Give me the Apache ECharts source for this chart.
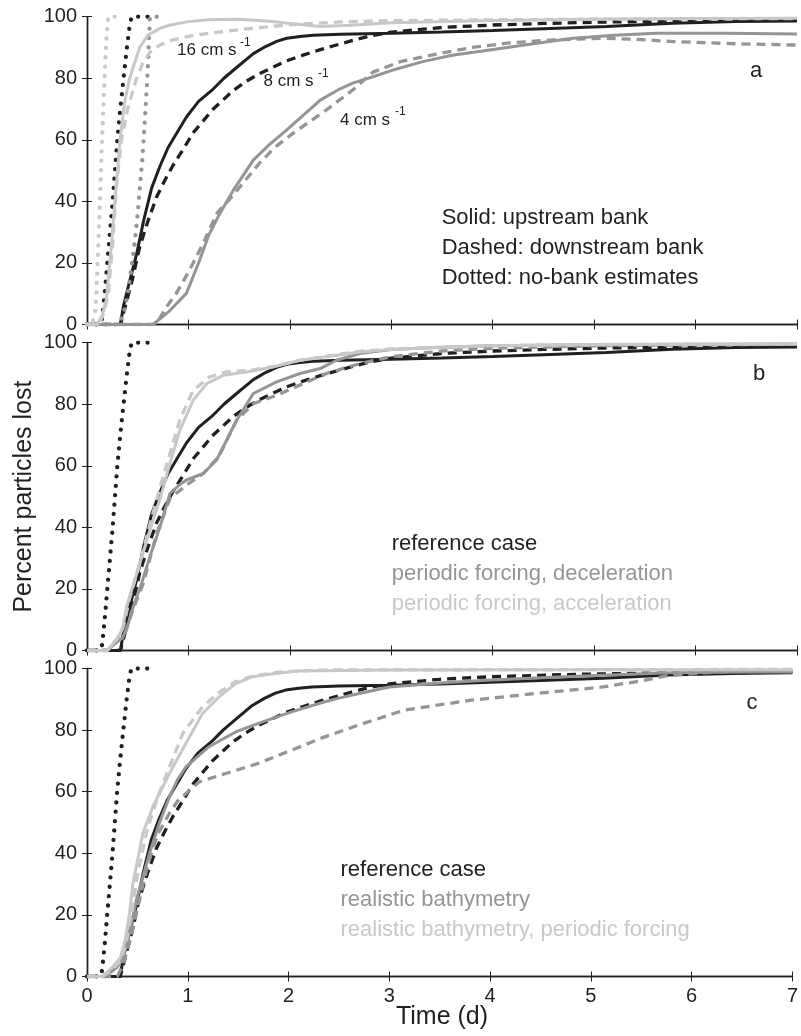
<!DOCTYPE html>
<html><head><meta charset="utf-8">
<script src="https://cdn.jsdelivr.net/npm/echarts@6/dist/echarts.min.js"></script>
<style>html,body{margin:0;padding:0;background:#fff}#c{width:801px;height:1036px}</style>
</head><body><div id="c"></div><script>
// ---------- data (time in days, percent lost) ----------
const xTicks = [0,1,2,3,4,5,6,7];
const yTicks = [0,20,40,60,80,100];

// reference case (8 cm/s) - shared by all panels
const refSolid = [[0,0],[0.33,0],[0.358,5.8],[0.42,14],[0.49,23],[0.56,34],[0.637,44.3],[0.72,51.5],[0.8,57.5],[0.9,63],[0.982,67.5],[1.1,72.5],[1.244,76.5],[1.35,80],[1.475,83.5],[1.64,88],[1.76,90.3],[1.87,92],[1.97,93],[2.1,93.6],[2.23,94],[2.5,94.3],[3,94.6],[3.5,95],[4,95.5],[4.5,96.1],[5.12,96.8],[5.77,97.9],[6.4,98.4],[7,98.6]];
const refDashed = [[0,0],[0.33,0],[0.37,5],[0.45,15],[0.52,25.3],[0.6,33.5],[0.687,41.5],[0.77,47],[0.85,51.8],[0.95,57],[1.047,62.3],[1.244,70],[1.441,76],[1.57,79],[1.70,81.5],[1.97,85.7],[2.13,87.5],[2.30,89.3],[2.46,90.8],[2.62,92.3],[2.8,93.8],[3.0,95],[3.5,96.5],[4,97.3],[4.5,97.8],[5,98.2],[6,98.7],[7,99]];
const refDotted = [[0,0],[0.13,0],[0.15,2],[0.18,12],[0.2,20],[0.227,30],[0.253,40],[0.276,50],[0.299,60],[0.325,69],[0.357,79],[0.39,89],[0.42,97],[0.44,100],[0.6,100]];

// panel a: 16 cm/s (light) and 4 cm/s (gray)
const fastSolid = [[0,0],[0.1,0],[0.15,3],[0.19,8],[0.23,22],[0.276,40],[0.325,60],[0.37,72],[0.42,80],[0.52,90],[0.6,94],[0.72,96.2],[0.82,97.3],[1.0,98.4],[1.2,99],[1.5,99.2],[1.8,98.5],[2.1,97.5],[2.3,96.8],[2.6,97.2],[3.0,98],[4,98.8],[5,99.2],[6,99.4],[7,99.5]];
const fastDashed = [[0,0],[0.12,0],[0.17,4],[0.21,10],[0.25,25],[0.29,45],[0.34,60],[0.4,70],[0.48,79],[0.55,85],[0.62,88.5],[0.72,90.8],[0.85,92.5],[1.0,93.6],[1.2,94.6],[1.5,95.8],[2,97.4],[2.5,98.3],[3,98.7],[4,99],[5,99.2],[6,99.3],[7,99.4]];
const fastDotted = [[0,0],[0.05,0],[0.085,5],[0.105,20],[0.128,40],[0.148,60],[0.173,80],[0.19,92],[0.21,100],[0.35,100]];
const slowSolid = [[0,0],[0.65,0],[0.8,4],[0.98,10.1],[1.1,20],[1.2,29],[1.31,36.1],[1.45,44],[1.64,53.4],[1.8,58.5],[1.97,63.2],[2.15,68.5],[2.30,72.9],[2.49,76.5],[2.62,78.4],[2.82,80.5],[3.0,82.5],[3.31,85.4],[3.6,87.5],[3.97,89.2],[4.4,91.2],[4.79,93],[5.2,94],[5.61,94.6],[6.3,94.6],[7,94.4]];
const slowDashed = [[0,0],[0.68,0],[0.785,5.8],[0.88,10.1],[1.0,17],[1.146,26.4],[1.28,36.1],[1.4,40.5],[1.51,44.8],[1.70,52.4],[1.85,57.5],[2.03,62.1],[2.2,66],[2.36,69.7],[2.62,76.2],[2.82,82],[3.1,85.5],[3.48,88.1],[3.8,90],[4.14,91.4],[4.6,92.5],[5.12,93],[5.5,92.5],[5.78,91.9],[6.4,91.2],[7,90.8]];
const slowDotted = [[0,0],[0.3,0],[0.34,2],[0.374,5.3],[0.407,11.2],[0.44,18.8],[0.473,27.5],[0.5,36],[0.522,44.8],[0.545,53.4],[0.562,62],[0.578,70.8],[0.594,79.4],[0.604,87],[0.615,95],[0.62,100],[0.7,100]];

// panel b: periodic forcing
const decelSolid = [[0,0],[0.2,0],[0.3,3],[0.35,4],[0.4,8],[0.456,14.2],[0.54,22],[0.62,30.5],[0.72,40.2],[0.818,51],[0.9,53.5],[0.98,55.4],[1.146,57.5],[1.278,61.9],[1.376,68.3],[1.475,74.8],[1.64,83.5],[1.87,87.3],[2.10,90],[2.30,91.6],[2.46,94.3],[2.69,96.5],[3,97.8],[3.5,98.5],[4,99],[5,99.3],[6,99.5],[7,99.5]];
const decelDashed = [[0,0],[0.2,0],[0.3,3],[0.37,5],[0.45,13],[0.555,21.8],[0.687,38],[0.818,49.4],[0.98,53.7],[1.146,57.5],[1.3,63],[1.475,74.8],[1.64,80.2],[1.87,82.9],[2.13,86.7],[2.36,90],[2.69,93.2],[3,95.5],[3.5,97.3],[4,98.2],[5,99],[6,99.3],[7,99.5]];
const accelSolid = [[0,0],[0.2,0],[0.3,4],[0.35,7],[0.39,14.2],[0.49,25],[0.62,39.1],[0.72,49.2],[0.818,60.8],[0.916,71.6],[1.047,81.3],[1.18,86.7],[1.343,89.4],[1.573,90.5],[1.835,92.1],[2.10,94.3],[2.36,95.4],[2.69,97],[3,97.8],[3.5,98.5],[4,99],[5,99.4],[6,99.5],[7,99.6]];
const accelDashed = [[0,0],[0.2,0],[0.3,4],[0.36,8],[0.42,17],[0.52,28],[0.62,41],[0.72,53],[0.818,64],[0.916,75],[1.047,84.5],[1.21,88.9],[1.376,90.5],[1.6,91],[1.835,92.3],[2.1,94.3],[2.4,95.8],[2.69,97.2],[3,98],[4,99],[5,99.4],[7,99.6]];

// panel c: realistic bathymetry
const bathySolid = [[0,0],[0.18,0],[0.3,3],[0.36,6],[0.42,14],[0.49,24.8],[0.62,40],[0.72,50],[0.818,58.3],[0.9,64],[0.982,68.1],[1.1,71.5],[1.21,74.6],[1.475,79.4],[1.70,82.2],[2.03,85.9],[2.36,89.2],[2.49,90.3],[2.69,91.8],[3.0,94],[3.5,95.3],[3.97,96.2],[4.5,97],[5.12,97.8],[5.78,98.6],[6.5,98.9],[7,98.9]];
const bathyDashed = [[0,0],[0.3,0],[0.36,4],[0.43,12],[0.52,24.8],[0.6,36],[0.7,46],[0.818,53],[0.9,57],[0.982,59.4],[1.113,63.2],[1.376,65.9],[1.70,69.2],[2.03,73.5],[2.36,77.8],[2.69,81.6],[3.15,86.5],[3.81,89.7],[4.46,91.9],[5.12,94],[5.5,96],[5.78,97.8],[6.27,98.9],[7,99.2]];
const bathyPerSolid = [[0,0],[0.15,0],[0.25,3],[0.33,6],[0.38,12],[0.42,20],[0.456,30.2],[0.555,46.5],[0.653,55.1],[0.818,65.9],[0.982,75.7],[1.146,85.4],[1.31,90.8],[1.475,95.1],[1.64,97.3],[1.87,98.4],[2.1,99.2],[3,99.5],[4,99.6],[7,99.6]];
const bathyPerDashed = [[0,0],[0.15,0],[0.25,2],[0.33,5],[0.38,10],[0.44,20],[0.5,33],[0.6,48],[0.7,58],[0.818,68],[0.95,78.9],[1.146,87.5],[1.3,92],[1.475,95.7],[1.64,97.5],[1.9,98.8],[2.3,99.5],[7,99.7]];

// ---------- style ----------
const INK = '#231f20', GRAY = '#939598', LIGHT = '#c7c8ca';
const FONT = '"Liberation Sans", Arial, Helvetica, sans-serif';
const grids = [
  {left: 87, right: 4, top: 16.7, height: 307.8},
  {left: 87, right: 4, top: 342.7, height: 307.8},
  {left: 87, right: 4, top: 668.5, height: 308}
];

const xAxis = [], yAxis = [];
grids.forEach((g, i) => {
  const tick = {show: true, inside: true, length: 5, lineStyle: {color: INK, width: 1}};
  const line = {show: true, lineStyle: {color: INK, width: 1.4}};
  xAxis.push({type: 'value', gridIndex: i, position: 'bottom', min: xTicks[0], max: xTicks[xTicks.length-1], interval: 1,
    axisLine: line, axisTick: tick, splitLine: {show: false},
    axisLabel: {show: i === 2, margin: 10, color: INK, fontSize: 20, fontFamily: FONT}});
  xAxis.push({type: 'value', gridIndex: i, position: 'top', min: xTicks[0], max: xTicks[xTicks.length-1], interval: 1,
    axisLine: line, axisTick: tick, splitLine: {show: false}, axisLabel: {show: false}});
  yAxis.push({type: 'value', gridIndex: i, position: 'left', min: yTicks[0], max: yTicks[yTicks.length-1], interval: 20,
    axisLine: line, axisTick: tick, splitLine: {show: false},
    axisLabel: {show: true, margin: 10, color: INK, fontSize: 20, fontFamily: FONT}});
  yAxis.push({type: 'value', gridIndex: i, position: 'right', min: yTicks[0], max: yTicks[yTicks.length-1], interval: 20,
    axisLine: line, axisTick: tick, splitLine: {show: false}, axisLabel: {show: false}});
});

function mk(data, color, kind, gi) {
  let ls;
  if (kind === 'solid') ls = {color, width: 3, type: 'solid'};
  else if (kind === 'dashed') ls = {color, width: 3.3, type: [9, 6], cap: 'butt'};
  else ls = {color, width: 4.3, type: [0.01, 9.4], cap: 'round'};
  return {type: 'line', data, xAxisIndex: gi*2, yAxisIndex: gi*2, showSymbol: false, symbol: 'none',
    smooth: false, lineStyle: ls, silent: true, animation: false, z: 2};
}

const series = [
  // panel a
  mk(refSolid, INK, 'solid', 0), mk(refDashed, INK, 'dashed', 0), mk(refDotted, INK, 'dotted', 0),
  mk(slowSolid, GRAY, 'solid', 0), mk(slowDashed, GRAY, 'dashed', 0), mk(slowDotted, GRAY, 'dotted', 0),
  mk(fastSolid, LIGHT, 'solid', 0), mk(fastDashed, LIGHT, 'dashed', 0), mk(fastDotted, LIGHT, 'dotted', 0),
  // panel b
  mk(refSolid, INK, 'solid', 1), mk(refDashed, INK, 'dashed', 1), mk(refDotted, INK, 'dotted', 1),
  mk(decelSolid, GRAY, 'solid', 1), mk(decelDashed, GRAY, 'dashed', 1),
  mk(accelSolid, LIGHT, 'solid', 1), mk(accelDashed, LIGHT, 'dashed', 1),
  // panel c
  mk(refSolid, INK, 'solid', 2), mk(refDashed, INK, 'dashed', 2), mk(refDotted, INK, 'dotted', 2),
  mk(bathySolid, GRAY, 'solid', 2), mk(bathyDashed, GRAY, 'dashed', 2),
  mk(bathyPerSolid, LIGHT, 'solid', 2), mk(bathyPerDashed, LIGHT, 'dashed', 2)
];

function txt(text, x, y, size, color, align) {
  return {type: 'text', x, y, z: 10, silent: true,
    style: {text, fill: color || INK, font: size + 'px ' + FONT, textAlign: align || 'left', textVerticalAlign: 'middle'}};
}

const graphic = [
  // axis titles
  {type: 'text', x: 24, y: 496.6, rotation: Math.PI/2, z: 10, silent: true,
   style: {text: 'Percent particles lost', fill: INK, font: '25px ' + FONT, textAlign: 'center', textVerticalAlign: 'middle'}},
  txt('Time (d)', 442, 1017, 25, INK, 'center'),
  // panel letters
  txt('a', 756, 71, 22, INK, 'center'),
  txt('b', 759, 374, 22, INK, 'center'),
  txt('c', 752, 703, 22, INK, 'center'),
  // panel a curve labels
  txt('16 cm s', 177, 50, 17), txt('-1', 240, 43, 12),
  txt('8 cm s', 263.5, 81, 17), txt('-1', 318, 73.5, 12),
  txt('4 cm s', 340, 120, 17), txt('-1', 395, 112, 12),
  // panel a key
  txt('Solid: upstream bank', 441.7, 218, 22),
  txt('Dashed: downstream bank', 441.7, 248, 22),
  txt('Dotted: no-bank estimates', 441.7, 278, 22),
  // panel b key
  txt('reference case', 391.7, 544, 22, INK),
  txt('periodic forcing, deceleration', 391.7, 574, 22, GRAY),
  txt('periodic forcing, acceleration', 391.7, 604, 22, LIGHT),
  // panel c key
  txt('reference case', 340.5, 870, 22, INK),
  txt('realistic bathymetry', 340.5, 900, 22, GRAY),
  txt('realistic bathymetry, periodic forcing', 340.5, 930, 22, LIGHT)
];

const chart = echarts.init(document.getElementById('c'), null, {renderer: 'canvas'});
chart.setOption({
  animation: false,
  backgroundColor: '#fff',
  grid: grids,
  xAxis, yAxis, series, graphic
});
</script></body></html>
